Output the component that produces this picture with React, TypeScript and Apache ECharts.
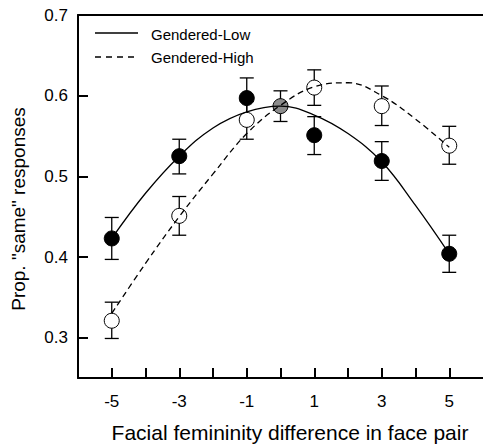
import React, { useEffect, useRef } from "react";
import * as echarts from "echarts";

// Observed points (x = facial femininity difference)
const pointX = [-5, -3, -1, 1, 3, 5];
const lowMeans = [0.423, 0.525, 0.597, 0.551, 0.519, 0.404];
const lowUpper = [0.449, 0.546, 0.622, 0.574, 0.543, 0.427];
const lowLower = [0.397, 0.503, 0.573, 0.527, 0.495, 0.381];
const highMeans = [0.321, 0.451, 0.570, 0.610, 0.587, 0.538];
const highUpper = [0.344, 0.475, 0.593, 0.632, 0.612, 0.562];
const highLower = [0.299, 0.427, 0.546, 0.588, 0.563, 0.515];
// Shared point at 0 (grey)
const zeroX = [0];
const zeroMean = [0.587];
const zeroUpper = [0.606];
const zeroLower = [0.568];

// Fitted curves at each integer x
const curveX = [-5, -4, -3, -2, -1, 0, 1, 2, 3, 4, 5];
const lowCurve = [0.423, 0.479, 0.525, 0.56, 0.58, 0.587, 0.576, 0.553, 0.518, 0.464, 0.404];
const highCurve = [0.33, 0.392, 0.45, 0.503, 0.553, 0.588, 0.611, 0.616, 0.6, 0.571, 0.536];

const xTicks = [-5, -4, -3, -2, -1, 0, 1, 2, 3, 4, 5];
const xLabels = [-5, -3, -1, 1, 3, 5];
const yTicks = [0.3, 0.4, 0.5, 0.6, 0.7];

const legendNames = ["Gendered-Low", "Gendered-High"];
const xName = "Facial femininity difference in face pair";
const yName = 'Prop. "same" responses';

const FONT = "'Liberation Sans', Arial, Helvetica, sans-serif";

export default function App() {
  const ref = useRef<HTMLDivElement>(null);

  useEffect(() => {
    if (!ref.current) return;
    const chart = echarts.init(ref.current, undefined, { renderer: "svg" });

    const errData: number[][] = [];
    pointX.forEach((x, i) => errData.push([x, lowLower[i], lowUpper[i]]));
    pointX.forEach((x, i) => errData.push([x, highLower[i], highUpper[i]]));
    zeroX.forEach((x, i) => errData.push([x, zeroLower[i], zeroUpper[i]]));

    const option: any = {
      animation: false,
      textStyle: { fontFamily: FONT, color: "#000" },
      grid: { left: 78, top: 15, bottom: 66, right: -3 },
      xAxis: [
        {
          type: "value",
          min: -6,
          max: 6,
          interval: 1,
          axisLine: { show: true, onZero: false, lineStyle: { color: "#000", width: 2 } },
          axisTick: {
            show: true,
            inside: true,
            length: 10,
            customValues: xTicks,
            lineStyle: { color: "#000", width: 2 },
          },
          axisLabel: {
            customValues: xLabels,
            fontSize: 17,
            color: "#000",
            fontFamily: FONT,
            margin: 15,
          },
          splitLine: { show: false },
        },
        {
          type: "value",
          position: "top",
          min: -6,
          max: 6,
          axisLine: { show: true, onZero: false, lineStyle: { color: "#000", width: 2 } },
          axisTick: { show: false },
          axisLabel: { show: false },
          splitLine: { show: false },
        },
      ],
      yAxis: {
        type: "value",
        min: 0.25,
        max: 0.7,
        axisLine: { show: true, onZero: false, lineStyle: { color: "#000", width: 2 } },
        axisTick: {
          show: true,
          inside: true,
          length: 10,
          customValues: yTicks,
          lineStyle: { color: "#000", width: 2 },
        },
        axisLabel: {
          customValues: yTicks,
          formatter: (v: number) => v.toFixed(1),
          fontSize: 17,
          color: "#000",
          fontFamily: FONT,
          margin: 10,
        },
        splitLine: { show: false },
      },
      series: [
        {
          type: "custom",
          name: "err",
          data: errData,
          z: 1,
          renderItem: (params: any, api: any) => {
            const x = api.value(0);
            const top = api.coord([x, api.value(2)]);
            const bot = api.coord([x, api.value(1)]);
            const w = 7;
            const style = { stroke: "#000", lineWidth: 1.3 };
            return {
              type: "group",
              children: [
                { type: "line", shape: { x1: top[0], y1: top[1], x2: bot[0], y2: bot[1] }, style },
                { type: "line", shape: { x1: top[0] - w, y1: top[1], x2: top[0] + w, y2: top[1] }, style },
                { type: "line", shape: { x1: bot[0] - w, y1: bot[1], x2: bot[0] + w, y2: bot[1] }, style },
              ],
            };
          },
        },
        {
          type: "scatter",
          name: "low-points",
          data: pointX.map((x, i) => [x, lowMeans[i]]),
          symbol: "circle",
          symbolSize: 15,
          itemStyle: { color: "#000", borderColor: "#000", borderWidth: 1, opacity: 1 },
          z: 2,
        },
        {
          type: "scatter",
          name: "high-points",
          data: pointX.map((x, i) => [x, highMeans[i]]),
          symbol: "circle",
          symbolSize: 15,
          itemStyle: { color: "#fff", borderColor: "#000", borderWidth: 1, opacity: 1 },
          z: 3,
        },
        {
          type: "scatter",
          name: "zero-point",
          data: zeroX.map((x, i) => [x, zeroMean[i]]),
          symbol: "circle",
          symbolSize: 15,
          itemStyle: { color: "#8c8c8c", borderColor: "#000", borderWidth: 1, opacity: 1 },
          z: 3,
        },
        {
          type: "line",
          name: legendNames[0],
          data: curveX.map((x, i) => [x, lowCurve[i]]),
          smooth: 0.4,
          showSymbol: false,
          symbol: "none",
          lineStyle: { color: "#000", width: 1.3 },
          z: 4,
        },
        {
          type: "line",
          name: legendNames[1],
          data: curveX.map((x, i) => [x, highCurve[i]]),
          smooth: 0.4,
          showSymbol: false,
          symbol: "none",
          lineStyle: { color: "#000", width: 1.3, type: [6, 4] },
          z: 4,
        },
      ],
      graphic: [
        {
          type: "line",
          shape: { x1: 95, y1: 33, x2: 138, y2: 33 },
          style: { stroke: "#000", lineWidth: 1.3 },
        },
        {
          type: "line",
          shape: { x1: 95, y1: 57, x2: 138, y2: 57 },
          style: { stroke: "#000", lineWidth: 1.3, lineDash: [6, 5] },
        },
        {
          type: "text",
          x: 151,
          y: 34,
          style: {
            text: legendNames[0],
            fill: "#000",
            font: `15px ${FONT}`,
            align: "left",
            verticalAlign: "middle",
          },
        },
        {
          type: "text",
          x: 151,
          y: 57,
          style: {
            text: legendNames[1],
            fill: "#000",
            font: `15px ${FONT}`,
            align: "left",
            verticalAlign: "middle",
          },
        },
        {
          type: "text",
          x: 290,
          y: 432,
          style: {
            text: xName,
            fill: "#000",
            font: `21px ${FONT}`,
            align: "center",
            verticalAlign: "middle",
          },
        },
        {
          type: "text",
          x: 18,
          y: 209,
          rotation: Math.PI / 2,
          style: {
            text: yName,
            fill: "#000",
            font: `19px ${FONT}`,
            align: "center",
            verticalAlign: "middle",
          },
        },
      ],
    };

    chart.setOption(option);
    return () => chart.dispose();
  }, []);

  return (
    <div
      ref={ref}
      style={{ position: "fixed", left: 0, top: 0, width: 483, height: 444, background: "#fff" }}
    />
  );
}
